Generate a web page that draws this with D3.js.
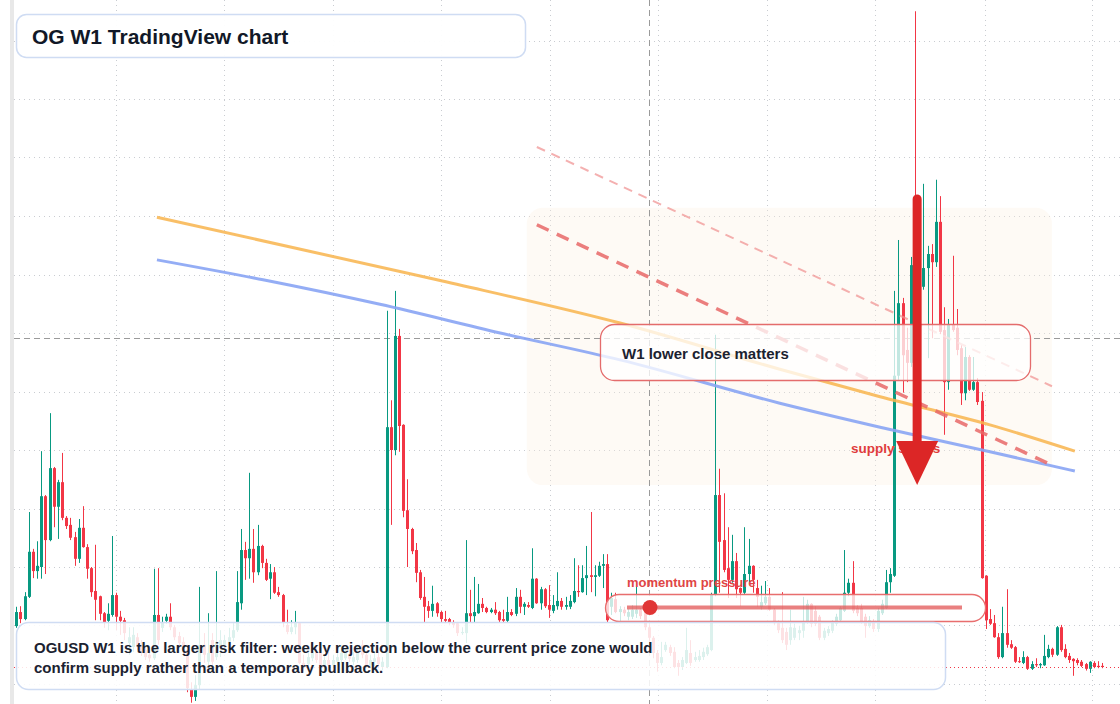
<!DOCTYPE html>
<html><head><meta charset="utf-8">
<script src="https://cdn.jsdelivr.net/npm/d3@7"></script>
<style>html,body{margin:0;padding:0;background:#fff;overflow:hidden}svg{display:block;font-family:"Liberation Sans",Arial,Helvetica,sans-serif}</style>
</head><body><svg id="chart" width="1120" height="704"></svg>
<script>
// ---------- data ----------
const firstWeek = "2020-07-17";
const opens = [1.99,2.23,2.11,2.49,3.26,2.93,3.00,4.21,3.46,4.69,
4.03,4.45,3.84,3.72,3.51,3.14,3.67,3.34,2.98,2.59,
2.50,2.21,2.08,2.18,2.52,2.15,2.09,1.70,1.63,1.80,
1.67,1.58,1.50,1.44,2.18,1.96,2.08,2.15,1.97,1.82,
1.72,1.58,0.90,0.78,0.98,1.67,1.38,1.75,1.46,1.63,
1.67,1.72,1.79,1.92,2.38,3.29,3.15,3.31,2.91,3.36,
3.07,2.80,2.91,2.57,2.52,2.01,1.89,1.97,2.04,1.36,
1.34,1.44,1.53,1.62,1.29,1.41,1.32,1.38,1.41,1.44,
1.51,1.38,1.41,1.67,1.50,1.32,1.38,1.46,1.29,1.29,
5.39,5.00,6.95,5.43,3.97,3.65,3.29,2.91,2.49,2.33,
2.25,2.38,2.23,2.11,2.11,2.06,2.04,1.87,1.87,2.21,
2.16,2.21,2.37,2.30,2.23,2.27,2.23,2.11,2.08,2.23,
2.20,2.49,2.32,2.35,2.30,2.80,2.38,2.62,2.35,2.25,
2.33,2.42,2.32,2.32,2.40,2.59,2.57,2.81,2.86,2.83,
2.85,3.02,3.05,2.32,2.45,2.23,2.27,2.15,2.15,2.20,
2.27,2.21,1.97,1.79,1.53,1.36,1.58,1.63,1.55,1.36,
1.29,1.36,1.53,1.41,1.41,1.46,1.51,1.58,2.52,4.23,
3.46,2.98,2.78,3.10,2.64,2.56,2.88,3.02,2.64,2.32,
2.38,2.49,2.27,2.04,1.96,1.89,1.75,1.79,1.87,1.91,
2.06,2.37,2.25,2.15,1.79,1.87,1.91,2.03,2.09,2.25,
2.56,2.73,2.30,2.30,2.15,1.99,2.06,1.94,2.21,2.30,
2.74,2.85,6.27,7.51,6.71,6.49,8.28,7.74,7.79,8.11,
8.35,8.21,8.90,7.05,6.16,7.14,7.09,6.74,5.97,6.59,
6.03,6.16,5.84,2.85,2.11,2.04,1.80,1.46,1.87,1.68,
1.63,1.39,1.36,1.46,1.26,1.34,1.32,1.32,1.46,1.60,
1.50,1.97,1.60,1.48,1.43,1.41,1.38,1.34,1.26,1.36,
1.31,1.31];
const highs = [2.32,2.33,2.57,3.94,3.31,3.44,4.98,4.23,5.63,4.71,
4.49,4.95,3.87,3.84,3.60,3.82,4.04,3.39,3.00,3.38,
2.51,2.23,2.38,3.53,2.56,2.25,2.13,1.97,1.97,1.87,
1.75,1.65,1.58,2.97,2.98,2.15,2.20,2.38,2.01,1.89,
1.80,1.67,1.03,1.15,2.66,1.87,2.21,1.87,2.93,1.92,
1.84,1.96,2.04,2.93,3.65,3.43,4.61,3.65,3.72,3.38,
3.14,3.05,3.00,2.66,2.54,2.27,2.09,2.25,2.06,1.50,
1.55,1.67,1.62,1.67,1.50,1.55,1.50,1.58,1.67,1.62,
1.58,1.55,1.67,1.75,1.55,1.50,1.55,1.55,1.46,7.38,
5.85,7.72,7.07,5.44,4.50,3.67,3.41,2.95,2.83,2.42,
2.68,2.40,2.25,2.25,2.13,2.09,2.06,1.97,3.46,2.61,
2.83,2.71,2.47,2.32,2.30,2.40,2.25,2.27,2.49,2.28,
2.64,2.61,2.40,2.40,3.32,2.81,2.66,2.64,2.69,2.52,
2.91,2.47,2.49,2.52,3.15,3.03,3.03,3.36,3.94,3.03,
3.09,3.22,3.22,2.56,2.56,2.33,2.32,2.28,2.35,2.66,
2.30,2.25,2.01,1.82,1.58,1.72,1.72,1.67,1.63,1.41,
1.46,1.96,1.75,1.55,1.58,1.62,1.67,2.56,6.97,4.68,
4.26,3.68,3.55,3.24,2.65,3.68,3.48,3.03,2.78,2.68,
2.76,2.64,2.30,2.09,2.57,1.96,2.27,2.03,1.99,2.49,
2.44,2.38,2.33,2.18,1.96,1.99,2.09,2.20,2.33,3.29,
2.80,3.10,2.35,2.37,2.20,2.16,2.11,2.30,2.44,2.95,
2.98,7.72,8.59,7.60,7.09,8.30,12.50,7.91,9.55,8.49,
8.52,9.62,9.34,7.44,7.24,8.32,7.41,6.79,6.76,6.62,
6.59,6.23,5.99,2.86,2.28,2.18,1.87,2.32,2.62,1.75,
1.65,1.46,1.56,1.48,1.39,1.44,1.36,1.84,1.67,1.62,
1.99,2.01,1.68,1.53,1.44,1.44,1.41,1.36,1.39,1.39,
1.39,1.36];
const lows = [1.96,2.04,2.09,2.47,2.81,2.80,2.80,2.88,3.44,3.68,
3.48,3.80,3.65,3.46,3.02,3.07,3.33,2.80,2.49,2.09,
2.09,1.96,1.92,2.15,1.92,1.84,1.75,1.50,1.55,1.58,
1.48,1.41,1.38,1.41,1.67,1.89,2.03,1.92,1.75,1.65,
1.50,0.86,0.68,0.71,0.90,1.36,1.32,1.29,1.41,1.46,
1.58,1.63,1.73,1.89,2.27,2.78,2.80,2.73,2.86,2.98,
2.76,2.45,2.54,2.49,1.97,1.85,1.85,1.85,1.34,1.21,
1.29,1.39,1.36,1.24,1.21,1.27,1.27,1.32,1.36,1.41,
1.38,1.32,1.36,1.44,1.27,1.27,1.31,1.27,1.24,1.27,
3.72,4.91,4.97,3.85,3.00,3.22,2.74,2.44,2.06,2.13,
2.15,2.15,2.06,2.04,2.01,1.96,1.82,1.84,1.70,2.06,
2.06,2.20,2.23,2.21,2.21,2.18,2.06,2.04,2.06,2.16,
2.16,2.21,2.18,2.30,2.28,2.37,2.27,2.30,2.13,2.21,
2.27,2.27,2.27,2.28,2.38,2.49,2.56,2.52,2.57,2.50,
2.83,2.64,2.06,2.18,2.21,2.04,2.16,2.09,2.11,2.13,
2.11,1.92,1.73,1.44,1.21,1.32,1.55,1.48,1.27,1.14,
1.24,1.34,1.31,1.38,1.38,1.41,1.48,1.56,2.50,2.56,
2.91,2.47,2.73,2.47,2.33,2.54,2.74,2.56,2.32,2.27,
2.35,2.25,2.01,1.87,1.70,1.58,1.67,1.75,1.75,1.79,
2.03,1.97,1.99,1.75,1.75,1.82,1.87,1.99,2.06,2.23,
2.50,2.21,2.16,2.03,1.79,1.96,1.89,1.89,2.18,2.28,
2.56,2.83,6.20,5.98,6.16,6.42,7.56,7.39,7.74,6.57,
6.91,8.13,6.98,5.26,6.03,7.02,6.62,5.77,5.85,6.01,
6.01,5.77,2.80,1.94,2.01,1.79,1.43,1.44,1.62,1.60,
1.36,1.36,1.34,1.24,1.24,1.29,1.27,1.31,1.44,1.46,
1.48,1.55,1.44,1.36,1.14,1.32,1.29,1.23,1.19,1.27,
1.27,1.27];
const closes = [2.23,2.11,2.50,3.26,2.93,3.02,4.21,3.46,4.69,4.03,
4.45,3.84,3.70,3.50,3.14,3.67,3.34,2.97,2.57,2.44,
2.20,2.06,2.20,2.52,2.15,2.08,1.87,1.80,1.84,1.63,
1.53,1.46,1.44,2.18,1.75,2.06,2.15,1.97,1.80,1.70,
1.58,0.93,0.78,0.98,1.67,1.50,1.53,1.38,1.72,1.75,
1.75,1.80,1.92,2.40,3.29,3.15,3.31,2.91,3.36,3.07,
2.78,2.91,2.56,2.52,2.06,1.89,1.97,2.04,1.36,1.27,
1.46,1.53,1.41,1.29,1.41,1.32,1.41,1.46,1.53,1.53,
1.43,1.46,1.53,1.50,1.32,1.41,1.44,1.34,1.38,5.39,
5.00,6.95,5.41,3.96,3.65,3.27,2.90,2.47,2.32,2.25,
2.37,2.21,2.11,2.08,2.06,2.01,1.87,1.89,2.21,2.16,
2.23,2.37,2.30,2.23,2.27,2.21,2.09,2.08,2.23,2.18,
2.49,2.32,2.37,2.32,2.80,2.38,2.62,2.33,2.27,2.35,
2.42,2.32,2.35,2.42,2.59,2.57,2.81,2.86,2.83,2.86,
3.02,3.05,2.09,2.47,2.23,2.28,2.21,2.23,2.27,2.27,
2.16,1.97,1.79,1.53,1.36,1.46,1.67,1.53,1.29,1.29,
1.41,1.58,1.36,1.46,1.48,1.55,1.63,2.52,4.23,3.43,
2.95,2.78,3.10,2.62,2.56,2.88,3.02,2.78,2.49,2.40,
2.49,2.27,2.04,1.92,1.75,1.67,1.97,1.96,1.92,2.06,
2.37,2.03,2.03,1.79,1.91,1.94,2.06,2.15,2.30,2.56,
2.73,2.25,2.21,2.06,1.99,2.09,1.94,2.25,2.37,2.74,
2.88,6.27,7.51,6.62,6.49,8.16,7.74,7.60,8.11,8.35,
8.21,8.90,7.02,6.16,7.14,7.05,6.71,5.97,6.59,6.03,
6.16,5.82,2.81,2.09,2.03,1.80,1.46,1.87,1.67,1.62,
1.38,1.38,1.46,1.26,1.34,1.32,1.34,1.48,1.60,1.50,
1.97,1.58,1.46,1.41,1.39,1.36,1.31,1.26,1.38,1.29,
1.29,1.29];
const priceGrid = [1,2,3,4,5,6,7,8,9,10,11,12];
// overlay anchors: [week index, price]
const slowCurve = [[33.8,8.98],[101.1,7.91],[145.1,7.17],[183.5,6.38],[207.6,5.91],[234.0,5.43],[254.4,4.98]];
const fastCurve = [[33.8,8.25],[59.3,7.91],[87.4,7.49],[116.3,7.00],[145.1,6.54],[183.5,5.80],[207.6,5.39],[234.0,4.97],[254.4,4.64]];
const upperSupplyLine = [[125.1,10.18],[248.9,6.09]];
const lowerSupplyLine = [[125.1,8.85],[248.9,4.74]];
const supplyZone = {from:122.7, to:248.9, top:9.14, bottom:4.40};
const arrowMark = {at:216.5, from:9.36, to:4.40};
const crosshair = {at:152, price:6.91};
const titleText = "OG W1 TradingView chart";
const calloutText = "W1 lower close matters";
const arrowText = "supply shows";
const momentumText = "momentum pressure";
const noteLines = ["OGUSD W1 is the larger risk filter: weekly rejection below the current price zone would",
                   "confirm supply rather than a temporary pullback."];

// ---------- scales ----------
const W = 1120, H = 704, plotLeft = 14;
const WEEK = 7*864e5;
const t0 = Date.parse(firstWeek + "T00:00:00Z");
const n = closes.length;
const dates = d3.range(n).map(i => new Date(t0 + i*WEEK));
const x = d3.scaleUtc().domain([dates[0], dates[n-1]]).range([16.3, 1102.3]);
const xi = idx => x(new Date(t0 + idx*WEEK));
const y = d3.scaleLinear().domain([1,12]).range([684,40.5]);

const svg = d3.select("#chart");
svg.append("rect").attr("width",W).attr("height",H).attr("fill","#ffffff");
svg.append("rect").attr("x",10).attr("y",0).attr("width",4).attr("height",H).attr("fill","#e8e8e8");

const defs = svg.append("defs");
defs.append("clipPath").attr("id","plot").append("rect").attr("x",plotLeft).attr("y",0).attr("width",W-plotLeft).attr("height",H);
const g = svg.append("g").attr("clip-path","url(#plot)");

// grid
const gridStyle = sel => sel.attr("stroke","#c9ccd1").attr("stroke-width",1).attr("stroke-dasharray","1,4");
g.append("g").selectAll("line").data(priceGrid).join("line")
  .attr("x1",plotLeft).attr("x2",W).attr("y1",d=>Math.round(y(d))+0.5).attr("y2",d=>Math.round(y(d))+0.5).call(gridStyle);
g.append("g").selectAll("line").data(x.ticks(d3.utcMonth.every(6))).join("line")
  .attr("x1",d=>Math.round(x(d))+0.5).attr("x2",d=>Math.round(x(d))+0.5).attr("y1",0).attr("y2",H).call(gridStyle);

// supply zone
g.append("rect").attr("x",xi(supplyZone.from)).attr("y",y(supplyZone.top))
  .attr("width",xi(supplyZone.to)-xi(supplyZone.from)).attr("height",y(supplyZone.bottom)-y(supplyZone.top))
  .attr("rx",16).attr("fill","#fbeee0").attr("opacity",0.32);

// crosshair
g.append("line").attr("x1",Math.round(xi(crosshair.at))+0.5).attr("x2",Math.round(xi(crosshair.at))+0.5).attr("y1",0).attr("y2",H)
  .attr("stroke","#9a9a9a").attr("stroke-width",1).attr("stroke-dasharray","6,4");
g.append("line").attr("x1",plotLeft).attr("x2",W).attr("y1",Math.round(y(crosshair.price))+0.5).attr("y2",Math.round(y(crosshair.price))+0.5)
  .attr("stroke","#9a9a9a").attr("stroke-width",1).attr("stroke-dasharray","6,4");

// candles
const idx = d3.range(n);
const up = i => closes[i] >= opens[i];
const green = "#089981", red = "#f23645";
const cg = g.append("g");
cg.selectAll("line").data(idx).join("line")
  .attr("x1",i=>Math.round(x(dates[i]))+0.5).attr("x2",i=>Math.round(x(dates[i]))+0.5)
  .attr("y1",i=>y(highs[i])).attr("y2",i=>y(lows[i]))
  .attr("stroke",i=>up(i)?green:red).attr("stroke-width",1);
cg.selectAll("rect").data(idx).join("rect")
  .attr("x",i=>Math.round(x(dates[i]))-1).attr("width",3)
  .attr("y",i=>y(Math.max(opens[i],closes[i])))
  .attr("height",i=>Math.max(1,Math.abs(y(opens[i])-y(closes[i]))))
  .attr("fill",i=>up(i)?green:red);

// trend curves
const curve = d3.line().x(d=>xi(d[0])).y(d=>y(d[1])).curve(d3.curveMonotoneX);
g.append("path").attr("d",curve(slowCurve)).attr("fill","none").attr("stroke","#f8b44c").attr("stroke-opacity",0.85).attr("stroke-width",3);
g.append("path").attr("d",curve(fastCurve)).attr("fill","none").attr("stroke","#88a4f4").attr("stroke-opacity",0.9).attr("stroke-width",3);
g.append("path").attr("d",curve(upperSupplyLine)).attr("fill","none").attr("stroke","#ef8f8f").attr("stroke-opacity",0.7).attr("stroke-width",2).attr("stroke-dasharray","9,7");
g.append("path").attr("d",curve(lowerSupplyLine)).attr("fill","none").attr("stroke","#e86767").attr("stroke-opacity",0.85).attr("stroke-width",3.5).attr("stroke-dasharray","13,9");

// callout box
g.append("rect").attr("x",600.5).attr("y",324.5).attr("width",430).attr("height",56).attr("rx",14)
  .attr("fill","#ffffff").attr("fill-opacity",0.76).attr("stroke","#e46c6c").attr("stroke-width",1.3);
g.append("text").attr("x",622).attr("y",359).attr("font-size",15).attr("font-weight",700).attr("fill","#1b2230").text(calloutText);

// arrow label, then arrow on top
g.append("text").attr("x",851).attr("y",453).attr("font-size",13.5).attr("font-weight",700).attr("fill","#e03c3c").text(arrowText);
const ax = xi(arrowMark.at), ay0 = y(arrowMark.from), ay1 = y(arrowMark.to);
g.append("line").attr("x1",ax).attr("x2",ax).attr("y1",ay0+4).attr("y2",ay1-40)
  .attr("stroke","#dc2626").attr("stroke-width",9).attr("stroke-linecap","round");
g.append("path").attr("d",`M${ax-21},${ay1-44} L${ax+21},${ay1-44} L${ax},${ay1} Z`).attr("fill","#dc2626");

// momentum pill
g.append("text").attr("x",627).attr("y",587).attr("font-size",13).attr("font-weight",700).attr("fill","#e04545").text(momentumText);
g.append("rect").attr("x",605.5).attr("y",594.5).attr("width",380).attr("height",27).attr("rx",13.5)
  .attr("fill","#ffffff").attr("fill-opacity",0.78).attr("stroke","#e86e6e").attr("stroke-width",1.3);
g.append("line").attr("x1",627).attr("x2",962).attr("y1",607.5).attr("y2",607.5).attr("stroke","#e25555").attr("stroke-opacity",0.75).attr("stroke-width",4);
g.append("circle").attr("cx",650).attr("cy",607.5).attr("r",7.5).attr("fill","#e03535");

// last price line
g.append("line").attr("x1",plotLeft).attr("x2",W).attr("y1",Math.round(y(closes[n-1]))+0.5).attr("y2",Math.round(y(closes[n-1]))+0.5)
  .attr("stroke","#f23645").attr("stroke-width",1).attr("stroke-dasharray","1,3");

// note box
svg.append("rect").attr("x",16.5).attr("y",622.5).attr("width",929).attr("height",67).attr("rx",12)
  .attr("fill","#ffffff").attr("fill-opacity",0.86).attr("stroke","#cfdcf3").attr("stroke-width",1.5);
svg.append("g").selectAll("text").data(noteLines).join("text")
  .attr("x",34).attr("y",(d,i)=>653+i*20).attr("font-size",15).attr("font-weight",700).attr("fill","#1b2230").text(d=>d);

// title box
svg.append("rect").attr("x",16.5).attr("y",14.5).attr("width",509).attr("height",43).attr("rx",10)
  .attr("fill","#ffffff").attr("fill-opacity",0.95).attr("stroke","#cfdcf3").attr("stroke-width",1.5);
svg.append("text").attr("x",32).attr("y",43.5).attr("font-size",21).attr("font-weight",700).attr("fill","#111827").text(titleText);
</script></body></html>
